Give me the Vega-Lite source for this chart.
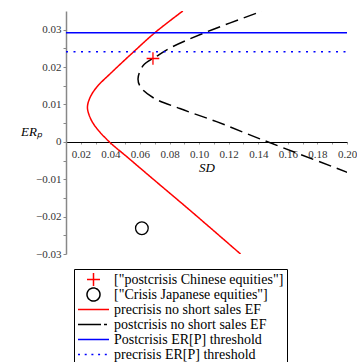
{
  "$schema": "https://vega.github.io/schema/vega-lite/v6.json",
  "width": 281,
  "height": 243,
  "autosize": "none",
  "padding": {"left": 66, "top": 11, "right": 10, "bottom": 108},
  "background": "white",
  "config": {"view": {"stroke": null}, "font": "Liberation Serif"},
  "data": {
    "values": [
      {"series": "precrisis no short sales EF", "sd": 0.128, "er": -0.030},
      {"series": "precrisis no short sales EF", "sd": 0.0938, "er": -0.0183},
      {"series": "precrisis no short sales EF", "sd": 0.069, "er": -0.0100},
      {"series": "precrisis no short sales EF", "sd": 0.0515, "er": -0.0041},
      {"series": "precrisis no short sales EF", "sd": 0.0393, "er": 0.0},
      {"series": "precrisis no short sales EF", "sd": 0.0300, "er": 0.0040},
      {"series": "precrisis no short sales EF", "sd": 0.0262, "er": 0.0066},
      {"series": "precrisis no short sales EF", "sd": 0.0245, "er": 0.0092},
      {"series": "precrisis no short sales EF", "sd": 0.0262, "er": 0.0118},
      {"series": "precrisis no short sales EF", "sd": 0.0307, "er": 0.0146},
      {"series": "precrisis no short sales EF", "sd": 0.0409, "er": 0.0186},
      {"series": "precrisis no short sales EF", "sd": 0.0555, "er": 0.024},
      {"series": "precrisis no short sales EF", "sd": 0.0701, "er": 0.0292},
      {"series": "precrisis no short sales EF", "sd": 0.089, "er": 0.035},
      {"series": "postcrisis no short sales EF", "sd": 0.2012, "er": -0.0083},
      {"series": "postcrisis no short sales EF", "sd": 0.1411, "er": 0.0008},
      {"series": "postcrisis no short sales EF", "sd": 0.1118, "er": 0.0054},
      {"series": "postcrisis no short sales EF", "sd": 0.087, "er": 0.0089},
      {"series": "postcrisis no short sales EF", "sd": 0.069, "er": 0.0118},
      {"series": "postcrisis no short sales EF", "sd": 0.0605, "er": 0.0146},
      {"series": "postcrisis no short sales EF", "sd": 0.0587, "er": 0.0169},
      {"series": "postcrisis no short sales EF", "sd": 0.0622, "er": 0.0204},
      {"series": "postcrisis no short sales EF", "sd": 0.0713, "er": 0.0229},
      {"series": "postcrisis no short sales EF", "sd": 0.0803, "er": 0.0251},
      {"series": "postcrisis no short sales EF", "sd": 0.1051, "er": 0.0294},
      {"series": "postcrisis no short sales EF", "sd": 0.1422, "er": 0.0349},
      {"series": "Postcrisis ER[P] threshold", "sd": 0.01, "er": 0.0292},
      {"series": "Postcrisis ER[P] threshold", "sd": 0.20, "er": 0.0292},
      {"series": "precrisis ER[P] threshold", "sd": 0.01, "er": 0.0241},
      {"series": "precrisis ER[P] threshold", "sd": 0.20, "er": 0.0241},
      {"series": "[\"postcrisis Chinese equities\"]", "sd": 0.0688, "er": 0.0223, "kind": "point"},
      {"series": "[\"Crisis Japanese equities\"]", "sd": 0.0613, "er": -0.0231, "kind": "point"}
    ]
  },
  "encoding": {
    "x": {
      "field": "sd", "type": "quantitative",
      "scale": {"domain": [0.01, 0.20], "nice": false, "zero": false},
      "axis": {
        "title": "SD", "titleFont": "Liberation Serif", "titleFontStyle": "italic", "titleFontWeight": "normal", "titleFontSize": 13, "titleColor": "#000",
        "titlePadding": 2,
        "offset": -112,
        "values": [0.02, 0.03, 0.04, 0.05, 0.06, 0.07, 0.08, 0.09, 0.10, 0.11, 0.12, 0.13, 0.14, 0.15, 0.16, 0.17, 0.18, 0.19, 0.20],
        "labelExpr": "abs(datum.value*50 - round(datum.value*50)) < 0.001 ? format(datum.value, '.2f') : ''",
        "labelFont": "Liberation Serif", "labelFontSize": 11, "labelColor": "#333", "labelPadding": 4,
        "domainColor": "#000", "domainWidth": 1,
        "tickColor": "#999", "tickSize": 2,
        "grid": false, "labelFlush": false, "labelOverlap": false
      }
    },
    "y": {
      "field": "er", "type": "quantitative",
      "scale": {"domain": [-0.03, 0.035], "nice": false, "zero": false},
      "axis": {
        "title": "ERₚ", "titleFont": "Liberation Serif", "titleFontStyle": "italic", "titleFontWeight": "normal", "titleFontSize": 13, "titleColor": "#000",
        "titleAngle": 0, "titleX": -35, "titleY": 120, "titleAlign": "center", "titleBaseline": "middle",
        "values": [-0.03, -0.025, -0.02, -0.015, -0.01, -0.005, 0, 0.005, 0.01, 0.015, 0.02, 0.025, 0.03],
        "labelExpr": "abs(datum.value*100 - round(datum.value*100)) < 0.001 ? (datum.value == 0 ? '0' : format(datum.value, '.2f')) : ''",
        "labelFont": "Liberation Serif", "labelFontSize": 11, "labelColor": "#333", "labelPadding": 2,
        "domainColor": "#888", "domainWidth": 1.5,
        "tickColor": "#888", "tickSize": 3,
        "grid": false, "labelOverlap": false
      }
    }
  },
  "layer": [
    {
      "transform": [{"filter": "datum.kind != 'point'"}],
      "mark": {"type": "line", "clip": true, "strokeWidth": 1.5, "interpolate": "catmull-rom"},
      "encoding": {
        "order": {"field": "er", "type": "quantitative"},
        "color": {
          "field": "series", "type": "nominal",
          "scale": {
            "domain": ["[\"postcrisis Chinese equities\"]", "[\"Crisis Japanese equities\"]", "precrisis no short sales EF", "postcrisis no short sales EF", "Postcrisis ER[P] threshold", "precrisis ER[P] threshold"],
            "range": ["#ff0000", "#000000", "#ff0000", "#000000", "#0000ff", "#0000ff"]
          },
          "legend": {
            "title": null,
            "orient": "none", "legendX": 8, "legendY": 258,
            "labelFont": "Liberation Serif", "labelFontSize": 14, "labelColor": "#000", "labelLimit": 400,
            "symbolType": "stroke", "symbolSize": 961, "symbolStrokeWidth": 1.5,
            "strokeColor": "#000", "fillColor": "#fff", "padding": 3,
            "rowPadding": 0, "clipHeight": 15, "labelOffset": 4,
            "encode": {
              "symbols": {
                "update": {
                  "shape": {"signal": "datum.index == 0 ? 'M-1,0H1M0,-1V1' : (datum.index == 1 ? 'circle' : 'stroke')"},
                  "size": {"signal": "datum.index <= 1 ? 169 : 961"},
                  "strokeDash": {"signal": "datum.index == 3 ? [23, 3, 3, 2] : (datum.index == 5 ? [2, 4.7] : [1, 0])"},
                  "fill": {"value": "transparent"},
                  "opacity": {"value": 1}
                }
              }
            }
          }
        },
        "strokeDash": {
          "field": "series", "type": "nominal",
          "scale": {
            "domain": ["precrisis no short sales EF", "postcrisis no short sales EF", "Postcrisis ER[P] threshold", "precrisis ER[P] threshold"],
            "range": [[1, 0], [13, 6], [1, 0], [2, 5.5]]
          },
          "legend": null
        }
      }
    },
    {
      "transform": [{"filter": "datum.kind == 'point'"}],
      "mark": {"type": "point", "filled": false, "size": 160, "strokeWidth": 1.3, "opacity": 1},
      "encoding": {
        "color": {"field": "series", "type": "nominal"},
        "shape": {
          "field": "series", "type": "nominal",
          "scale": {
            "domain": ["[\"postcrisis Chinese equities\"]", "[\"Crisis Japanese equities\"]"],
            "range": ["M-1,0H1M0,-1V1", "circle"]
          },
          "legend": null
        }
      }
    }
  ]
}
